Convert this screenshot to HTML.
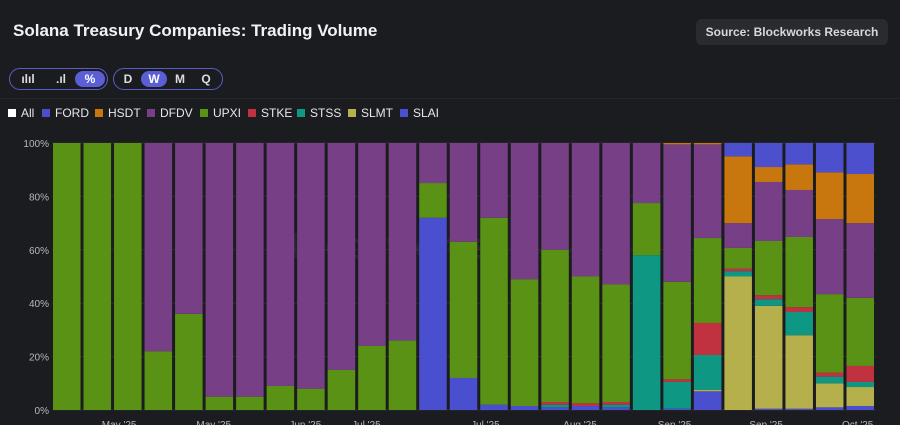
<!DOCTYPE html>
<html><head><meta charset="utf-8"><style>
body{margin:0;width:900px;height:425px;background:#1b1c1f;font-family:"Liberation Sans",sans-serif;overflow:hidden;position:relative;color:#e8e8ea}
.title{position:absolute;left:13px;top:21px;font-size:17px;font-weight:bold;color:#f2f2f4}
.src{position:absolute;left:696px;top:19px;width:192px;height:26px;background:#2a2b2f;border-radius:6px;font-size:12px;font-weight:bold;color:#d8d8dc;text-align:center;line-height:26px}
.grp{position:absolute;top:68px;height:22px;border:1.5px solid #5a5cc8;border-radius:12px;box-sizing:border-box}
.btn{position:absolute;top:2px;height:16px;border-radius:8px;font-size:12px;font-weight:bold;text-align:center;line-height:16px;color:#ddd}
.on{background:#5b5fd6;color:#fff}
.sep{position:absolute;left:0;top:98px;width:900px;height:1px;background:#26272b}
.li{position:absolute;top:106px;display:flex;align-items:center;font-size:12px;color:#e8e8ea;white-space:nowrap}
.sw{width:8px;height:8px;margin-right:5px}
</style></head><body>
<div class="title">Solana Treasury Companies: Trading Volume</div>
<div class="src">Source: Blockworks Research</div>
<div class="grp" style="left:9px;width:99px">
<div class="btn" style="left:5px;width:26px">ılıl</div>
<div class="btn" style="left:38px;width:26px">.ıl</div>
<div class="btn on" style="left:65px;width:30px">%</div>
</div>
<div class="grp" style="left:113px;width:110px">
<div class="btn" style="left:6px;width:16px">D</div>
<div class="btn on" style="left:27px;width:26px">W</div>
<div class="btn" style="left:57px;width:18px">M</div>
<div class="btn" style="left:83px;width:18px">Q</div>
</div>
<div class="sep"></div>
<div id="leg"></div>
<svg id="ch" width="900" height="425" style="position:absolute;left:0;top:0"></svg>
<script>
const series=["FORD","SLMT","STSS","STKE","UPXI","DFDV","HSDT","SLAI"];
const legendOrder=["All","FORD","HSDT","DFDV","UPXI","STKE","STSS","SLMT","SLAI"];
const legendX=[8,42,95,147,200,248,297,348,400];
const colors={All:"#ffffff",FORD:"#4a4fcf",HSDT:"#c8770f",DFDV:"#763f86",UPXI:"#5a9216",STKE:"#c0323f",STSS:"#0e9884",SLMT:"#b5b04c",SLAI:"#4c50cc"};
const FORD=[0,0,0,0,0,0,0,0,0,0,0,0,72,12,2,1.5,1,1.5,1,0,0.5,7,0,0.5,0.5,1,1.5];
const SLMT=[0,0,0,0,0,0,0,0,0,0,0,0,0,0,0,0,0,0,0,0,0,0.6,50,38.5,27.5,9,7.1];
const STSS=[0,0,0,0,0,0,0,0,0,0,0,0,0,0,0,0,1,0,1,58,10,13,2,2.5,8.7,2.5,1.9];
const STKE=[0,0,0,0,0,0,0,0,0,0,0,0,0,0,0,0,1,1,1,0,1,12,1,1.5,1.8,1.5,6];
const UPXI=[100,100,100,22,36,5,5,9,8,15,24,26,13,51,70,47.5,57,47.5,44,19.5,36.5,31.8,7.7,20.3,26.3,29.4,25.5];
const DFDV=[0,0,0,78,64,95,95,91,92,85,76,74,15,37,28,51,40,50,53,22.5,51.5,35.1,9.3,22.1,17.6,28.1,28];
const HSDT=[0,0,0,0,0,0,0,0,0,0,0,0,0,0,0,0,0,0,0,0,0.5,0.5,25,5.6,9.6,17.5,18.4];
const SLAI=[0,0,0,0,0,0,0,0,0,0,0,0,0,0,0,0,0,0,0,0,0,0,5,9,8,11,11.6];
const data={FORD,SLMT,STSS,STKE,UPXI,DFDV,HSDT,SLAI};
const yTicks=[0,20,40,60,80,100];
const xLabels=[["May '25",2.2],["May '25",5.3],["Jun '25",8.3],["Jul '25",10.3],["Jul '25",14.2],["Aug '25",17.3],["Sep '25",20.4],["Sep '25",23.4],["Oct '25",26.4]];
const NS="http://www.w3.org/2000/svg";
const svg=document.getElementById('ch');
const x0=52,x1=876,yTop=143,yBot=410;
const n=FORD.length,step=(x1-x0)/n,bw=step-3;
const y=v=>yBot-(v/100)*(yBot-yTop);
const xb=i=>x0+1+i*step;
function mk(t,a){const e=document.createElementNS(NS,t);for(const k in a)e.setAttribute(k,a[k]);svg.appendChild(e);return e;}
yTicks.forEach(t=>{
 const l=mk('line',{x1:x0,x2:x1,y1:y(t),y2:y(t),stroke:'#2c2d31','stroke-width':1});
 
 
 const tx=mk('text',{x:x0-3,y:y(t)+4,'text-anchor':'end','font-size':10,fill:'#b8b8bc'});
 tx.textContent=t+'%';
 
 
});
const wm=mk('text',{x:390,y:258,'text-anchor':'middle','font-size':36,'font-weight':'bold',fill:'rgba(255,255,255,0.05)'});
wm.textContent='Blockworks';


const wm2=mk('text',{x:550,y:258,'text-anchor':'middle','font-size':14,fill:'rgba(255,255,255,0.05)'});
wm2.textContent='Research';


for(let i=0;i<n;i++){
 let c=0;
 series.forEach(s=>{
  const v=data[s][i];if(v<=0)return;
  const r=mk('rect',{x:xb(i),y:y(c+v),width:bw,height:y(c)-y(c+v),fill:colors[s]});
  
  
  c+=v;
 });
}
xLabels.forEach(([t,p])=>{
 const tx=mk('text',{x:x0+p*step,y:428,'text-anchor':'middle','font-size':10,fill:'#b8b8bc'});
 tx.textContent=t;
 
 
});
const leg=document.getElementById('leg');
legendOrder.forEach((s,i)=>{
 const d=document.createElement('div');d.className='li';
 d.style.left=legendX[i]+'px';
 
 
 d.innerHTML='<span class="sw" style="background:'+colors[s]+'"></span>'+s;
 leg.appendChild(d);
});
</script>
</body></html>
